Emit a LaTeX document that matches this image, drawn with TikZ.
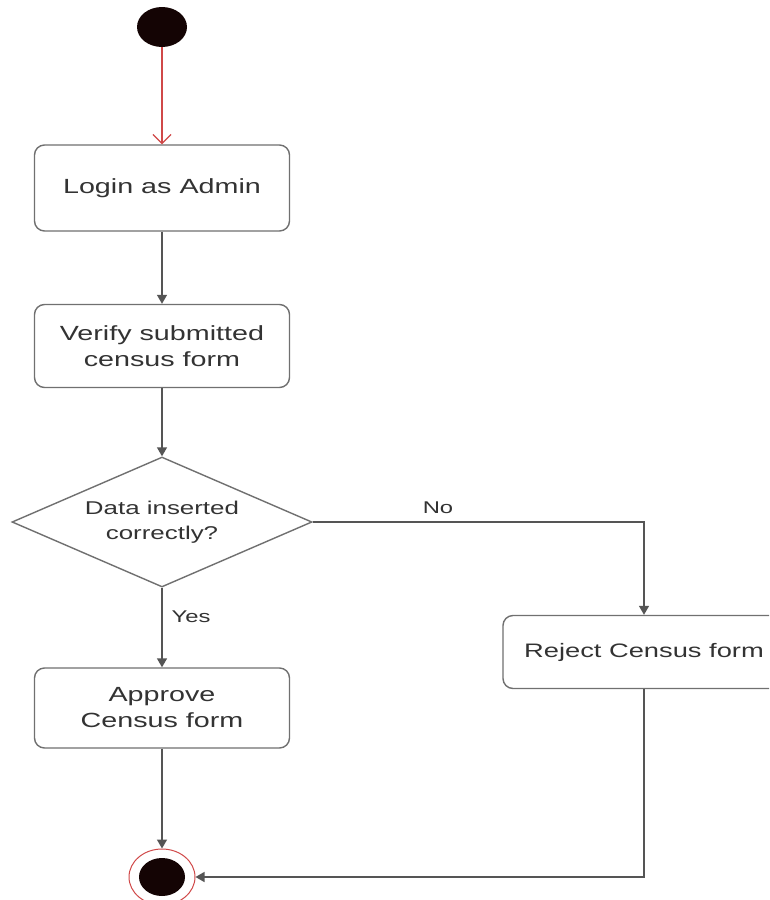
\documentclass[tikz,border=0pt]{standalone}
\usepackage{fontspec}
\setmainfont{Liberation Sans}
\newfontfamily\widefont[FakeStretch=1.4]{Liberation Sans}
\usetikzlibrary{shapes.geometric,arrows.meta}
\definecolor{boxgray}{HTML}{707070}
\definecolor{linegray}{HTML}{555555}
\definecolor{txtgray}{HTML}{333333}
\definecolor{startred}{HTML}{D04848}
\definecolor{dotblack}{HTML}{140404}
\begin{document}
\begin{tikzpicture}[x=1pt,y=-1pt,
  box/.style={draw=boxgray, line width=1.4pt, rounded corners=10pt, fill=white,
    minimum width=255pt, inner sep=0pt, align=center,
    font=\widefont\fontsize{20.5}{26}\selectfont, text=txtgray},
  lbl/.style={font=\widefont\fontsize{17}{22}\selectfont, text=txtgray, inner sep=0pt},
  arr/.style={draw=linegray, line width=1.4pt, -{Triangle[width=10pt,length=9pt]}},
  dot/.style={ellipse, fill=dotblack, draw=none, minimum width=50pt, minimum height=40pt, inner sep=0pt}
]
\useasboundingbox (0,0) rectangle (769,900);
\clip (0,0) rectangle (769,900);
\fill[white] (0,0) rectangle (769,900);

\node[dot] (start) at (162,27) {};
\node[box, minimum height=86pt] (login) at (162,188) {Login as Admin};
\node[box, minimum height=83pt] (verify) at (162,346) {Verify submitted\\census form};
\node[diamond, draw=boxgray, line width=1.4pt, fill=white, minimum width=300pt,
  minimum height=130pt, inner sep=0pt] (dia) at (162,522) {};
\node[align=center, font=\widefont\fontsize{18.5}{25}\selectfont, text=txtgray, inner sep=0pt]
  (diatext) at (dia.center) {Data inserted\\correctly?};
\node[box, minimum height=80pt] (approve) at (162,708) {Approve\\Census form};
\node[box, minimum width=282pt, minimum height=73pt, font=\widefont\fontsize{19.5}{26}\selectfont]
  (reject) at (644,652) {Reject Census form};
\node[ellipse, draw=startred, line width=1pt, fill=white, minimum width=66pt,
  minimum height=56pt, inner sep=0pt] (endring) at (162,877) {};
\node[dot, minimum width=46pt, minimum height=38pt] (enddot) at (endring.center) {};

\node[lbl] (nolbl) at (438,508) {No};
\node[lbl] (yeslbl) at (191,617) {Yes};

\draw[draw=startred, line width=1.2pt, -{Straight Barb[width=18pt,length=9pt]}] (start) -- (login.north);
\draw[arr] (login) -- (verify);
\draw[arr] (verify) -- (dia.north);
\draw[arr] (dia.south) -- (approve.north);
\draw[arr] (dia.east) -| (reject.north);
\draw[arr] (approve) -- (endring.north);
\draw[arr] (reject.south) |- (endring.east);
\end{tikzpicture}
\end{document}
